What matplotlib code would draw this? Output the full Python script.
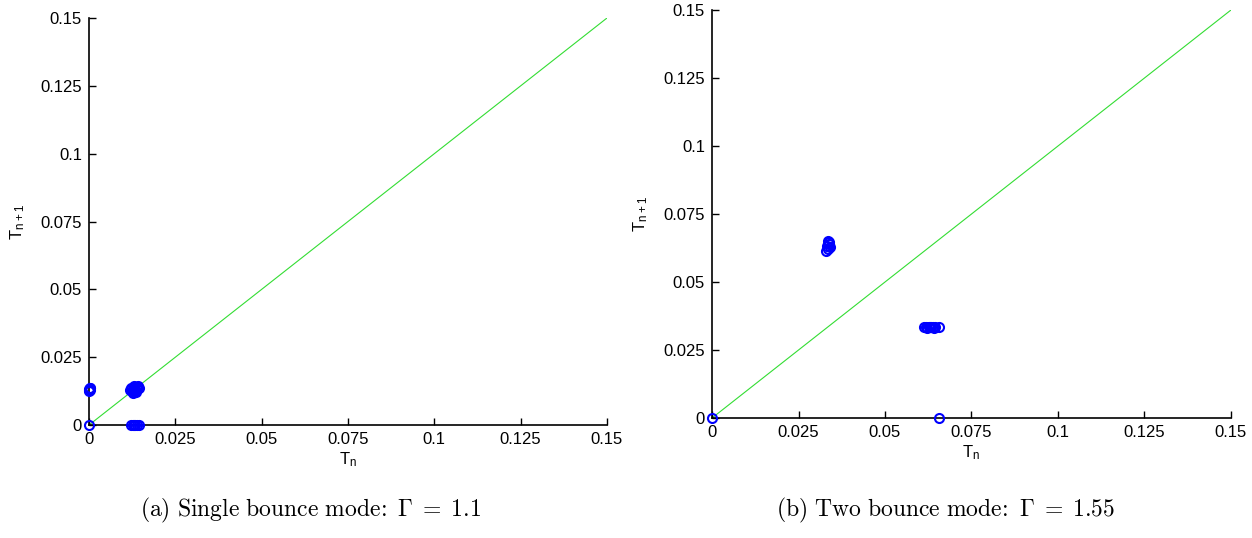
import matplotlib
matplotlib.use("Agg")
import matplotlib.pyplot as plt
import numpy as np

plt.rcParams['font.family'] = ['Liberation Sans', 'DejaVu Sans']
plt.rcParams['mathtext.fontset'] = 'cm'

# return map points (T_n, T_n+1) for the two driving amplitudes
single_Tn = [0.0,
             0.0, 0.0002, 0.0001, 0.0003, 0.0001, 0.0002,
             0.0118, 0.0124, 0.0130, 0.0134, 0.0138, 0.0142, 0.0128, 0.0145,
             0.0121, 0.0127, 0.0133, 0.0139, 0.0136, 0.0131,
             0.0122, 0.0126, 0.0130, 0.0134, 0.0138, 0.0145]
single_Tn1 = [0.0,
              0.0132, 0.0135, 0.0128, 0.0130, 0.0126, 0.0138,
              0.0130, 0.0125, 0.0138, 0.0132, 0.0140, 0.0145, 0.0118, 0.0136,
              0.0136, 0.0131, 0.0127, 0.0134, 0.0122, 0.0142,
              0.0, 0.0, 0.0, 0.0, 0.0, 0.0]

double_Tn = [0.0, 0.0656,
             0.0330, 0.0334, 0.0338, 0.0336, 0.0340, 0.0332, 0.0337,
             0.0612, 0.0618, 0.0622, 0.0626, 0.0630, 0.0634, 0.0638, 0.0641,
             0.0645, 0.0655]
double_Tn1 = [0.0, 0.0,
              0.0615, 0.0622, 0.0640, 0.0652, 0.0628, 0.0634, 0.0646,
              0.0334, 0.0336, 0.0332, 0.0335, 0.0333, 0.0336, 0.0334, 0.0332,
              0.0333, 0.0334]

ticks = [0, 0.025, 0.05, 0.075, 0.1, 0.125, 0.15]
tick_labels = ['0', '0.025', '0.05', '0.075', '0.1', '0.125', '0.15']
diag = [0, 0.15]

captions = [r'$\mathrm{(a)\ Single\ bounce\ mode\!:}\ \Gamma\;=\;1.1$',
            r'$\mathrm{(b)\ Two\ bounce\ mode\!:}\ \Gamma\;=\;1.55$']

fig = plt.figure(figsize=(12.52, 5.38), dpi=100)
ax1 = fig.add_axes([0.0711, 0.210, 0.4137, 0.7565])
ax2 = fig.add_axes([0.5687, 0.223, 0.4145, 0.7584])

panels = [(ax1, single_Tn, single_Tn1), (ax2, double_Tn, double_Tn1)]

for ax, tn, tn1 in panels:
    ax.plot(diag, diag, color='#33dd33', lw=0.8, zorder=1)
    ax.plot(tn, tn1, 'o', mfc='none', mec='#0000ff', ms=6.5, mew=1.5,
            clip_on=False, zorder=3)
    ax.set_xlim(0, 0.15)
    ax.set_ylim(0, 0.15)
    ax.set_xticks(ticks)
    ax.set_xticklabels(tick_labels)
    ax.set_yticks(ticks)
    ax.set_yticklabels(tick_labels)
    ax.tick_params(direction='in', length=5, width=1, labelsize=12,
                   colors='black', pad=5)
    ax.spines['top'].set_visible(False)
    ax.spines['right'].set_visible(False)
    ax.spines['left'].set_linewidth(1.2)
    ax.spines['bottom'].set_linewidth(1.2)
    ax.set_xlabel(r'T$_\mathregular{n}$', fontsize=12, labelpad=2)
    ax.set_ylabel(r'T$_\mathregular{n+1}$', fontsize=12, labelpad=10)

fig.text(0.248, 0.052, captions[0], fontsize=17, ha='center', va='center')
fig.text(0.755, 0.052, captions[1], fontsize=17, ha='center', va='center')

plt.savefig("out.png", dpi=100)
